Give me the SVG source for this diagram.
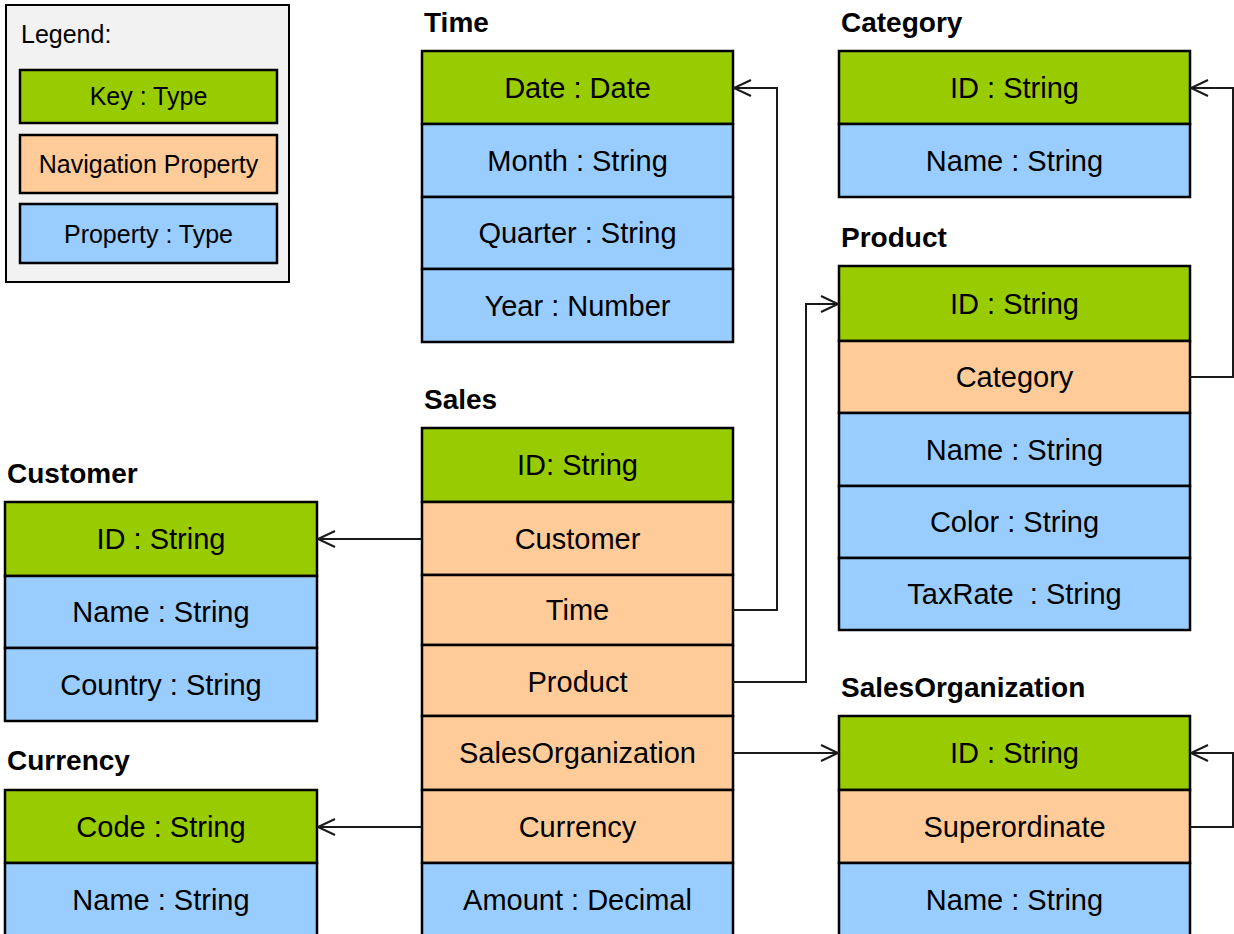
<svg xmlns="http://www.w3.org/2000/svg" width="1234" height="934" viewBox="0 0 1234 934">
<style>
.key{fill:#99cc00;stroke:#000;stroke-width:2.5}
.nav{fill:#ffcc99;stroke:#000;stroke-width:2.5}
.prop{fill:#99ccff;stroke:#000;stroke-width:2.5}
.t{font-family:"Liberation Sans",Arial,sans-serif;font-size:29px;fill:#000;text-anchor:middle}
.lt{font-family:"Liberation Sans",Arial,sans-serif;font-size:25px;fill:#000;text-anchor:middle}
.title{font-family:"Liberation Sans",Arial,sans-serif;font-size:28px;font-weight:bold;fill:#000}
.conn{fill:none;stroke:#1a1a1a;stroke-width:2}
</style>
<defs>
<marker id="arr" markerUnits="userSpaceOnUse" markerWidth="24" markerHeight="24" viewBox="-20 -12 24 24" refX="0" refY="0" orient="auto">
<path d="M-17,-8 L0,0 L-17,8" fill="none" stroke="#1a1a1a" stroke-width="2"/>
</marker>
</defs>
<rect width="1234" height="934" fill="#fff"/>

<g id="legend">
<rect x="6" y="5" width="283" height="277" fill="#f2f2f2" stroke="#000" stroke-width="2"/>
<text x="21" y="43" font-family="Liberation Sans,Arial,sans-serif" font-size="25">Legend:</text>
<rect class="key" x="20" y="70" width="257" height="53"/>
<text class="lt" x="148.5" y="105">Key : Type</text>
<rect class="nav" x="20" y="135" width="257" height="58"/>
<text class="lt" x="148.5" y="173">Navigation Property</text>
<rect class="prop" x="20" y="204" width="257" height="59"/>
<text class="lt" x="148.5" y="243">Property : Type</text>
</g>

<g id="time">
<text class="title" x="424" y="32">Time</text>
<rect class="key" x="422" y="51" width="311" height="73"/>
<rect class="prop" x="422" y="124" width="311" height="73"/>
<rect class="prop" x="422" y="197" width="311" height="72"/>
<rect class="prop" x="422" y="269" width="311" height="73"/>
<text class="t" x="577.5" y="98">Date : Date</text>
<text class="t" x="577.5" y="171">Month : String</text>
<text class="t" x="577.5" y="243">Quarter : String</text>
<text class="t" x="577.5" y="316">Year : Number</text>
</g>

<g id="category">
<text class="title" x="841" y="32">Category</text>
<rect class="key" x="839" y="51" width="351" height="73"/>
<rect class="prop" x="839" y="124" width="351" height="73"/>
<text class="t" x="1014.5" y="98">ID : String</text>
<text class="t" x="1014.5" y="171">Name : String</text>
</g>

<g id="product">
<text class="title" x="841" y="247">Product</text>
<rect class="key" x="839" y="266" width="351" height="75"/>
<rect class="nav" x="839" y="341" width="351" height="72"/>
<rect class="prop" x="839" y="413" width="351" height="73"/>
<rect class="prop" x="839" y="486" width="351" height="72"/>
<rect class="prop" x="839" y="558" width="351" height="72"/>
<text class="t" x="1014.5" y="314">ID : String</text>
<text class="t" x="1014.5" y="387">Category</text>
<text class="t" x="1014.5" y="460">Name : String</text>
<text class="t" x="1014.5" y="532">Color : String</text>
<text class="t" x="1014.5" y="604" xml:space="preserve">TaxRate  : String</text>
</g>

<g id="sales">
<text class="title" x="424" y="409">Sales</text>
<rect class="key" x="422" y="428" width="311" height="74"/>
<rect class="nav" x="422" y="502" width="311" height="73"/>
<rect class="nav" x="422" y="575" width="311" height="70"/>
<rect class="nav" x="422" y="645" width="311" height="71"/>
<rect class="nav" x="422" y="716" width="311" height="74"/>
<rect class="nav" x="422" y="790" width="311" height="73"/>
<rect class="prop" x="422" y="863" width="311" height="82"/>
<text class="t" x="577.5" y="475">ID: String</text>
<text class="t" x="577.5" y="549">Customer</text>
<text class="t" x="577.5" y="620">Time</text>
<text class="t" x="577.5" y="692">Product</text>
<text class="t" x="577.5" y="763">SalesOrganization</text>
<text class="t" x="577.5" y="837">Currency</text>
<text class="t" x="577.5" y="910">Amount : Decimal</text>
</g>

<g id="customer">
<text class="title" x="7" y="483">Customer</text>
<rect class="key" x="5" y="502" width="312" height="74"/>
<rect class="prop" x="5" y="576" width="312" height="72"/>
<rect class="prop" x="5" y="648" width="312" height="73"/>
<text class="t" x="161" y="549">ID : String</text>
<text class="t" x="161" y="622">Name : String</text>
<text class="t" x="161" y="695">Country : String</text>
</g>

<g id="currency">
<text class="title" x="7" y="770">Currency</text>
<rect class="key" x="5" y="790" width="312" height="73"/>
<rect class="prop" x="5" y="863" width="312" height="82"/>
<text class="t" x="161" y="837">Code : String</text>
<text class="t" x="161" y="910">Name : String</text>
</g>

<g id="salesorganization">
<text class="title" x="841" y="697">SalesOrganization</text>
<rect class="key" x="839" y="716" width="351" height="74"/>
<rect class="nav" x="839" y="790" width="351" height="73"/>
<rect class="prop" x="839" y="863" width="351" height="82"/>
<text class="t" x="1014.5" y="763">ID : String</text>
<text class="t" x="1014.5" y="837">Superordinate</text>
<text class="t" x="1014.5" y="910">Name : String</text>
</g>

<g id="connectors">
<path class="conn" d="M422,539 H318" marker-end="url(#arr)"/>
<path class="conn" d="M733,610 H777 V88 H734" marker-end="url(#arr)"/>
<path class="conn" d="M733,682 H806 V304 H838" marker-end="url(#arr)"/>
<path class="conn" d="M733,753 H838" marker-end="url(#arr)"/>
<path class="conn" d="M422,827 H318" marker-end="url(#arr)"/>
<path class="conn" d="M1190,377 H1233 V88 H1191" marker-end="url(#arr)"/>
<path class="conn" d="M1190,827 H1233 V753 H1191" marker-end="url(#arr)"/>
</g>
</svg>
